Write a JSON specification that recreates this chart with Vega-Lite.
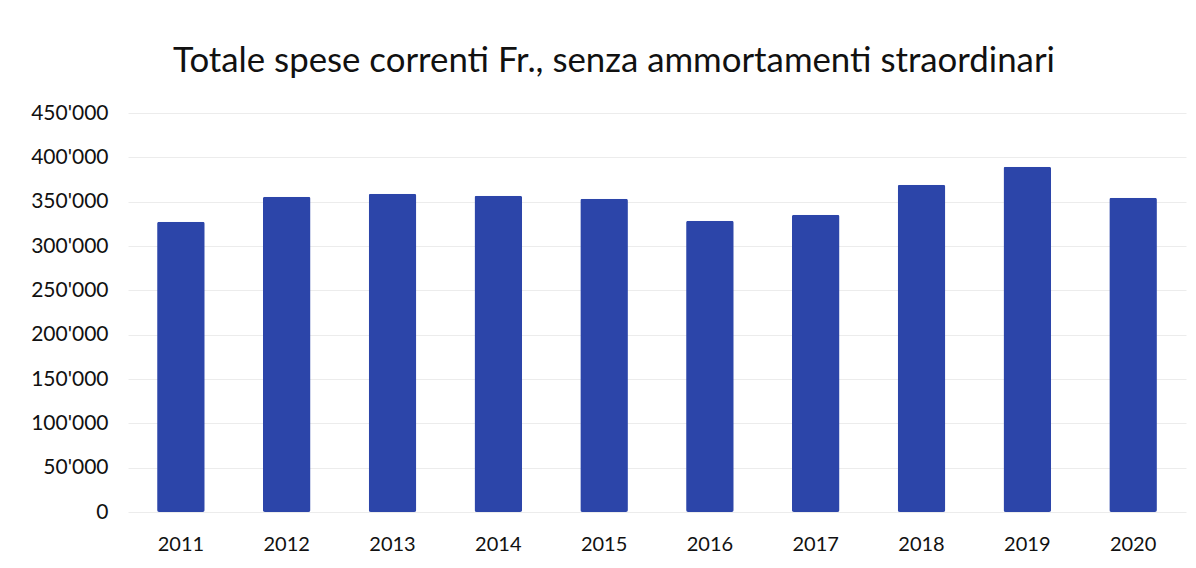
{
  "$schema": "https://vega.github.io/schema/vega-lite/v6.json",
  "autosize": "none",
  "width": 1058,
  "height": 399,
  "padding": {"left": 128, "top": 113, "right": 10, "bottom": 56},
  "background": "white",
  "title": {
    "text": "Totale spese correnti Fr., senza ammortamenti straordinari",
    "font": "Lato",
    "fontSize": 34.8,
    "fontWeight": "normal",
    "color": "#111111",
    "anchor": "middle",
    "frame": "group",
    "dx": -43,
    "offset": 22
  },
  "data": {
    "values": [
      {"anno": "2011", "spese": 327300},
      {"anno": "2012", "spese": 355500},
      {"anno": "2013", "spese": 358900},
      {"anno": "2014", "spese": 356700},
      {"anno": "2015", "spese": 353300},
      {"anno": "2016", "spese": 328400},
      {"anno": "2017", "spese": 335200},
      {"anno": "2018", "spese": 369000},
      {"anno": "2019", "spese": 389400},
      {"anno": "2020", "spese": 354400}
    ]
  },
  "mark": {"type": "bar", "color": "#2C45A9", "cornerRadius": 2},
  "encoding": {
    "x": {
      "field": "anno",
      "type": "ordinal",
      "scale": {"paddingInner": 0.55, "paddingOuter": 0.275},
      "axis": {
        "title": null,
        "labelAngle": 0,
        "labelFont": "Lato",
        "labelFontSize": 20,
        "labelColor": "#111111",
        "labelPadding": 22,
        "domain": false,
        "ticks": false
      }
    },
    "y": {
      "field": "spese",
      "type": "quantitative",
      "scale": {"domain": [0, 450000], "nice": false},
      "axis": {
        "title": null,
        "values": [0, 50000, 100000, 150000, 200000, 250000, 300000, 350000, 400000, 450000],
        "labelExpr": "replace(format(datum.value, ','), /,/g, \"'\")",
        "labelFont": "Lato",
        "labelFontSize": 21,
        "labelColor": "#111111",
        "labelPadding": 20,
        "domain": false,
        "ticks": false,
        "grid": true,
        "gridColor": "#ececec",
        "gridWidth": 1
      }
    }
  },
  "config": {"view": {"stroke": null}}
}
